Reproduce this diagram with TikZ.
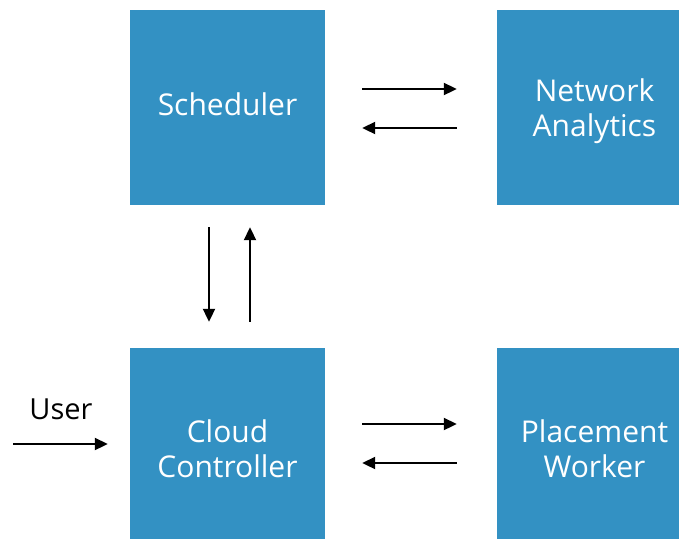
\documentclass[tikz,border=0pt]{standalone}
\usepackage{fontspec}
\setmainfont{Open Sans}
\usetikzlibrary{positioning}
\usetikzlibrary{arrows.meta}

\definecolor{boxblue}{HTML}{3391C3}

\begin{document}
\begin{tikzpicture}[x=1pt,y=-1pt,
	block/.style={
		fill=boxblue,
		draw=none,
		text=white,
		minimum width=195pt,
		minimum height=195pt,
		align=center,
		inner sep=0pt,
		font=\fontsize{30}{35}\selectfont
	},
	twoline/.style={text height=#1, text depth=6pt},
	twoline/.default=63pt,
	link/.style={
		line width=2pt,
		-{Triangle[length=13pt,width=12pt]}
	}
]
\useasboundingbox (0,0) rectangle (679,539);

\node[block, text depth=6pt] (sched) at (227.5,107.5) {Scheduler};
\node[block, twoline] (net) at (594.5,107.5) {Network\\Analytics};
\node[block, twoline=73pt, minimum height=191pt] (cloud) at (227.5,443.5) {Cloud\\Controller};
\node[block, twoline=73pt, minimum height=191pt] (place) at (594.5,443.5) {Placement\\Worker};

%user input
\node[font=\fontsize{29}{34}\selectfont] (user) at (61,409) {User};
\coordinate (userin) at (13,444);

\draw[link, shorten >=22pt] (userin) -- (cloud.west |- userin);

\draw[link, shorten <=37pt, shorten >=40pt] ([yshift=18.5pt]sched.east) -- ([yshift=18.5pt]net.west);
\draw[link, shorten <=40pt, shorten >=37pt] ([yshift=-20.5pt]net.west) -- ([yshift=-20.5pt]sched.east);

\draw[link, shorten <=22pt, shorten >=26pt] ([xshift=-18.5pt]sched.south) -- ([xshift=-18.5pt]cloud.north);
\draw[link, shorten <=26pt, shorten >=22pt] ([xshift=22.5pt]cloud.north) -- ([xshift=22.5pt]sched.south);

\draw[link, shorten <=37pt, shorten >=40pt] ([yshift=19.5pt]cloud.east) -- ([yshift=19.5pt]place.west);
\draw[link, shorten <=40pt, shorten >=37pt] ([yshift=-19.5pt]place.west) -- ([yshift=-19.5pt]cloud.east);
\end{tikzpicture}
\end{document}
